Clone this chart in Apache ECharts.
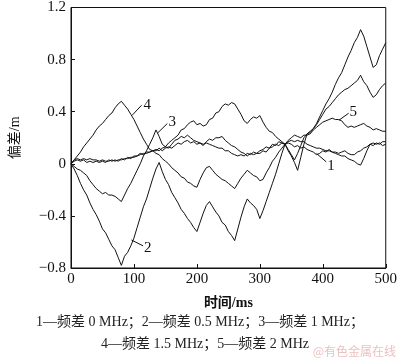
<!DOCTYPE html>
<html>
<head>
<meta charset="utf-8">
<script src="https://cdn.jsdelivr.net/npm/echarts@6/dist/echarts.min.js"></script>
<style>html,body{margin:0;padding:0;background:#fff}#c{width:400px;height:363px}</style>
</head>
<body>
<div id="c"></div>
<script>
// time axis (ms), sampled every 5 ms
const times = [0,5,10,15,20,25,30,35,40,45,50,55,60,65,70,75,80,85,90,95,100,105,110,115,120,125,130,135,140,145,150,155,160,165,170,175,180,185,190,195,200,205,210,215,220,225,230,235,240,245,250,255,260,265,270,275,280,285,290,295,300,305,310,315,320,325,330,335,340,345,350,355,360,365,370,375,380,385,390,395,400,405,410,415,420,425,430,435,440,445,450,455,460,465,470,475,480,485,490,495,500];

const seriesA = [0,-0.04,-0.09,-0.15,-0.2,-0.24,-0.3,-0.35,-0.39,-0.44,-0.5,-0.53,-0.58,-0.63,-0.66,-0.72,-0.78,-0.71,-0.68,-0.63,-0.57,-0.49,-0.41,-0.33,-0.27,-0.19,-0.11,-0.04,0.01,-0.06,-0.12,-0.16,-0.22,-0.26,-0.3,-0.35,-0.38,-0.42,-0.45,-0.49,-0.52,-0.45,-0.38,-0.32,-0.29,-0.33,-0.37,-0.4,-0.45,-0.47,-0.52,-0.55,-0.59,-0.5,-0.41,-0.33,-0.27,-0.3,-0.32,-0.35,-0.42,-0.36,-0.29,-0.22,-0.15,-0.08,0.0,0.08,0.15,0.1,0.06,0.01,-0.05,0.05,0.15,0.23,0.25,0.27,0.31,0.36,0.41,0.46,0.5,0.55,0.61,0.66,0.7,0.76,0.82,0.87,0.93,0.97,1.03,0.98,0.9,0.82,0.74,0.76,0.83,0.88,0.93];

const seriesB = [0,0.03,0.06,0.09,0.13,0.16,0.19,0.22,0.26,0.29,0.31,0.34,0.37,0.39,0.43,0.46,0.48,0.45,0.42,0.38,0.34,0.29,0.24,0.19,0.15,0.11,0.1,0.08,0.07,0.04,0.02,0.0,-0.03,-0.05,-0.07,-0.1,-0.11,-0.14,-0.15,-0.17,-0.18,-0.12,-0.07,-0.03,-0.02,-0.05,-0.08,-0.1,-0.12,-0.13,-0.15,-0.17,-0.19,-0.15,-0.11,-0.08,-0.05,-0.07,-0.09,-0.1,-0.13,-0.12,-0.07,-0.03,0.02,0.05,0.09,0.12,0.15,0.11,0.07,0.03,0.08,0.14,0.2,0.23,0.24,0.27,0.3,0.34,0.38,0.42,0.44,0.47,0.5,0.53,0.55,0.57,0.58,0.6,0.62,0.64,0.68,0.63,0.6,0.55,0.51,0.53,0.57,0.6,0.62];

const seriesC = [0,-0.02,-0.04,-0.05,-0.07,-0.09,-0.13,-0.16,-0.19,-0.21,-0.23,-0.22,-0.24,-0.24,-0.25,-0.27,-0.29,-0.24,-0.19,-0.15,-0.1,-0.05,0.0,0.06,0.1,0.15,0.2,0.26,0.21,0.15,0.13,0.16,0.18,0.2,0.22,0.26,0.27,0.3,0.32,0.33,0.3,0.31,0.29,0.3,0.34,0.35,0.39,0.4,0.44,0.46,0.45,0.47,0.46,0.42,0.38,0.33,0.31,0.34,0.36,0.35,0.37,0.32,0.28,0.25,0.24,0.21,0.19,0.17,0.15,0.18,0.2,0.22,0.21,0.2,0.22,0.22,0.23,0.26,0.28,0.3,0.32,0.33,0.34,0.35,0.34,0.34,0.33,0.3,0.28,0.29,0.28,0.29,0.3,0.31,0.29,0.28,0.26,0.27,0.26,0.25,0.25];

const seriesD = [0,0.02,0.03,0.02,0.03,0.01,0.02,0.01,0.02,0.01,0.02,0.01,0.03,0.02,0.03,0.02,0.04,0.03,0.05,0.04,0.06,0.06,0.08,0.07,0.09,0.09,0.1,0.1,0.12,0.1,0.12,0.13,0.12,0.14,0.16,0.15,0.17,0.18,0.16,0.17,0.15,0.16,0.14,0.17,0.19,0.18,0.2,0.2,0.21,0.18,0.16,0.14,0.13,0.11,0.09,0.08,0.06,0.08,0.07,0.08,0.08,0.1,0.09,0.12,0.13,0.15,0.14,0.16,0.15,0.16,0.15,0.13,0.14,0.12,0.13,0.11,0.1,0.09,0.07,0.08,0.1,0.09,0.11,0.09,0.08,0.07,0.06,0.06,0.04,0.03,0.02,0.0,-0.01,0.04,0.1,0.15,0.14,0.16,0.15,0.17,0.17];

const seriesE = [0,0.03,0.04,0.03,0.04,0.03,0.04,0.03,0.03,0.02,0.03,0.02,0.02,0.03,0.02,0.03,0.03,0.04,0.04,0.05,0.05,0.06,0.07,0.08,0.08,0.09,0.1,0.11,0.1,0.12,0.13,0.12,0.15,0.18,0.19,0.21,0.2,0.22,0.2,0.18,0.17,0.16,0.15,0.16,0.15,0.14,0.13,0.12,0.12,0.1,0.1,0.08,0.07,0.06,0.07,0.06,0.08,0.07,0.09,0.08,0.1,0.11,0.13,0.12,0.15,0.14,0.17,0.16,0.15,0.17,0.18,0.17,0.18,0.17,0.17,0.15,0.14,0.13,0.12,0.12,0.11,0.1,0.1,0.09,0.09,0.08,0.09,0.1,0.08,0.07,0.07,0.09,0.1,0.12,0.13,0.15,0.16,0.15,0.16,0.14,0.15];

// curve labels: text, label position, leader start, leader end (data coordinates)
const curveLabels = [
  {text:'2', series:0, at:[122,-0.65], from:[96,-0.585], to:[114.5,-0.63]},
  {text:'4', series:1, at:[121,0.45], from:[97,0.372], to:[112,0.449]},
  {text:'3', series:2, at:[161,0.32], from:[137.7,0.237], to:[153,0.309]},
  {text:'1', series:3, at:[413,-0.02], from:[390,0.079], to:[405.5,0.015]},
  {text:'5', series:4, at:[448.5,0.40], from:[425.5,0.334], to:[441,0.388]}
];

const xTicks = {min:0, max:500, interval:100};
const yTicks = {min:-0.8, max:1.2, interval:0.4};
const captionLine1 = '1—频差 0 MHz；2—频差 0.5 MHz；3—频差 1 MHz；';
const captionLine2 = '4—频差 1.5 MHz；5—频差 2 MHz';

const serif = "'Liberation Serif','Times New Roman','Noto Sans CJK SC',serif";
const all = [seriesA, seriesB, seriesC, seriesD, seriesE];

const series = all.map((vals, i) => {
  const s = {
    type:'line', showSymbol:false, symbol:'none', animation:false,
    data: times.map((t, k) => [t, vals[k]]),
    lineStyle:{color:'#111', width:1},
    z: 2
  };
  const labs = curveLabels.filter(l => l.series === i);
  s.markLine = {
    silent:true, symbol:['none','none'], animation:false,
    lineStyle:{color:'#111', width:1, type:'solid'},
    label:{show:false},
    data: labs.map(l => [{coord:l.from}, {coord:l.to}])
  };
  s.markPoint = {
    silent:true, animation:false, symbol:'circle', symbolSize:1,
    itemStyle:{color:'rgba(0,0,0,0)'},
    label:{show:true, position:'inside', color:'#111', fontFamily:serif, fontSize:15, formatter: p => p.name},
    data: labs.map(l => ({name:l.text, coord:l.at}))
  };
  return s;
});

const fmtY = v => Math.abs(v) < 1e-9 ? '0' : v.toFixed(1).replace('-', '\u2212');

const chart = echarts.init(document.getElementById('c'), null, {renderer:'canvas'});
chart.setOption({
  animation:false,
  backgroundColor:'#fff',
  grid:{left:60, right:13, top:7, bottom:95, show:true, borderColor:'#111', borderWidth:1, backgroundColor:'transparent'},
  xAxis:{
    type:'value', min:xTicks.min, max:xTicks.max, interval:xTicks.interval,
    name:'时间/ms', nameLocation:'middle', nameGap:28,
    nameTextStyle:{fontFamily:serif, fontSize:14, fontWeight:'bold', color:'#111'},
    axisLine:{show:true, onZero:false, lineStyle:{color:'#111', width:1}},
    axisTick:{show:true, inside:true, length:4, lineStyle:{color:'#111'}},
    axisLabel:{fontFamily:serif, fontSize:15, color:'#111', margin:4},
    splitLine:{show:false}
  },
  yAxis:{
    type:'value', min:yTicks.min, max:yTicks.max, interval:yTicks.interval,
    name:'偏差/m', nameLocation:'middle', nameGap:49, nameRotate:90,
    nameTextStyle:{fontFamily:serif, fontSize:14, color:'#111'},
    axisLine:{show:true, onZero:false, lineStyle:{color:'#111', width:1}},
    axisTick:{show:true, inside:true, length:4, lineStyle:{color:'#111'}},
    axisLabel:{fontFamily:serif, fontSize:15, color:'#111', margin:5, formatter:fmtY},
    splitLine:{show:false}
  },
  series: series,
  graphic:[
    {type:'text', left:'center', top:315, style:{text:captionLine1, fontFamily:serif, fontSize:14, fill:'#222'}},
    {type:'text', left:101, top:337, style:{text:captionLine2, fontFamily:serif, fontSize:14, fill:'#222'}},
    {type:'text', right:4, top:345, style:{text:'@有色金属在线', fontFamily:"'Noto Sans CJK SC',sans-serif", fontSize:12, fill:'rgba(220,150,150,0.6)'}}
  ]
});
</script>
</body>
</html>
